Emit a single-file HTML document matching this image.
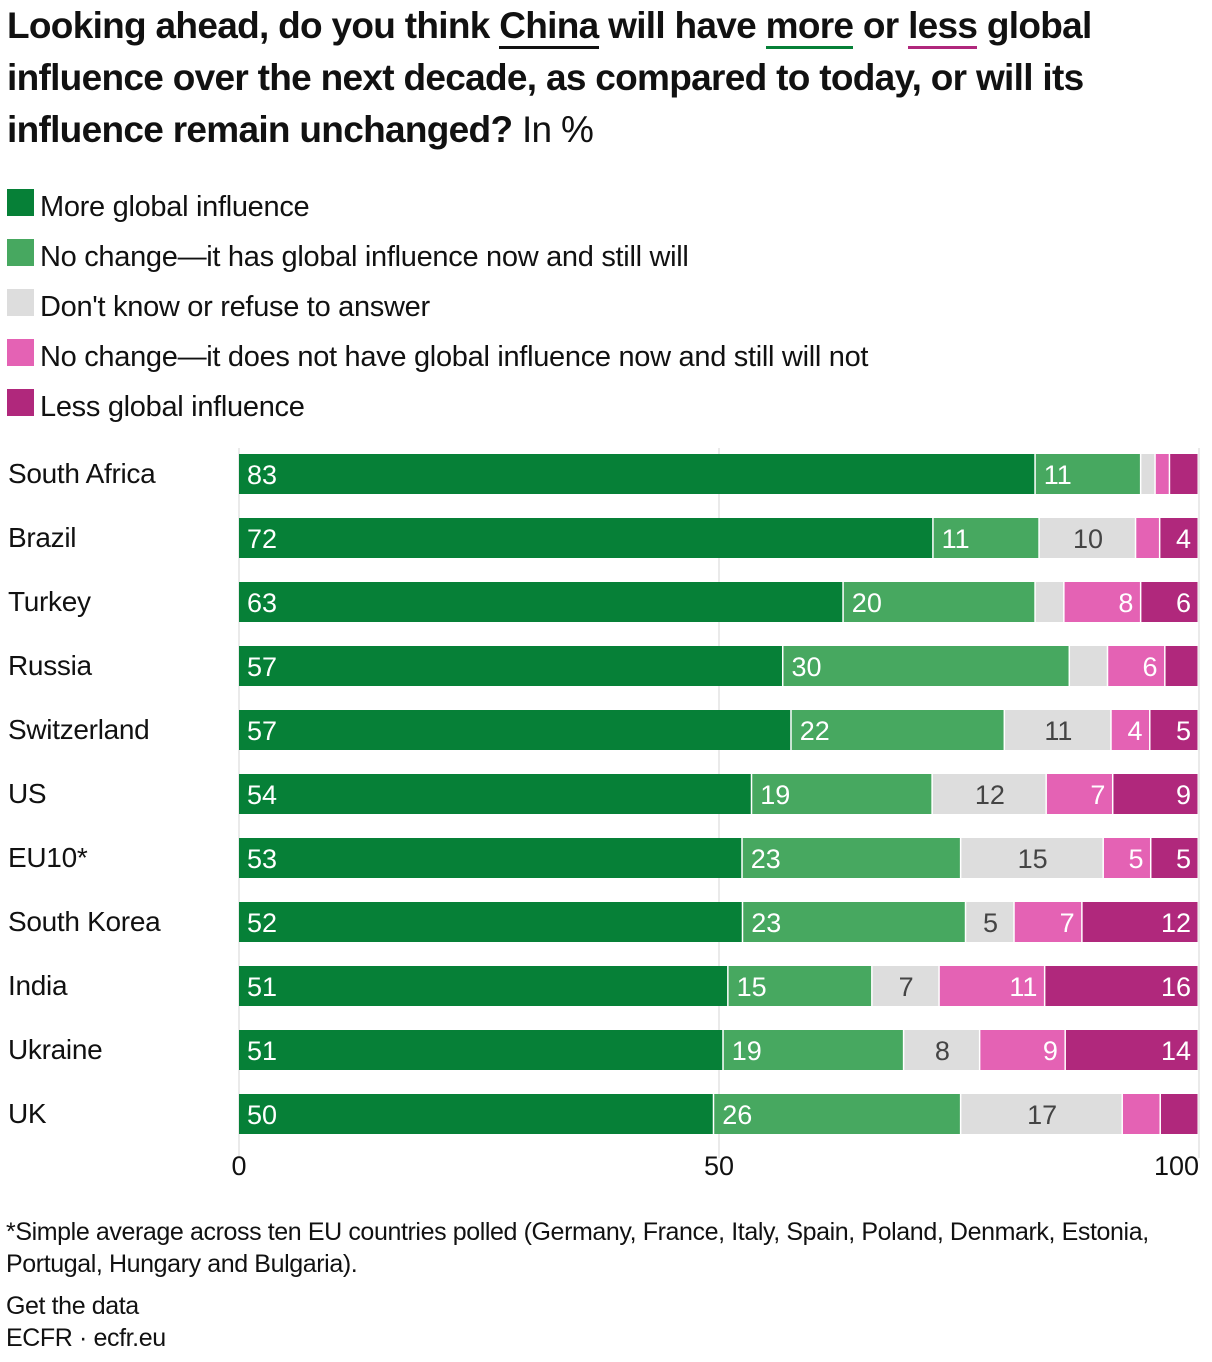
<!DOCTYPE html>
<html><head><meta charset="utf-8"><style>
body{margin:0;width:1212px;height:1362px;background:#fff;font-family:"Liberation Sans",sans-serif;color:#111;overflow:hidden;position:relative}
.title{position:absolute;left:7px;top:0px;font-size:37px;font-weight:bold;line-height:52px;white-space:nowrap;letter-spacing:-0.7px}
.title .n{font-weight:normal}
.u1{border-bottom:3px solid #111}.u2{border-bottom:3px solid #068037}.u3{border-bottom:3px solid #b0287c}
.leg{position:absolute;left:7px;font-size:29px;white-space:nowrap;letter-spacing:-0.3px}
.leg i{display:inline-block;width:27px;height:27px;vertical-align:0px;margin-right:6px}
.foot{position:absolute;left:6px;font-size:25px;white-space:nowrap;letter-spacing:-0.4px;line-height:32px}
</style></head><body>
<div class="title">Looking ahead, do you think <span class="u1">China</span> will have <span class="u2">more</span> or <span class="u3">less</span> global<br>influence over the next decade, as compared to today, or will its<br>influence remain unchanged? <span class="n">In %</span></div>
<div class="leg" style="top:189px"><i style="background:#068037"></i>More global influence</div>
<div class="leg" style="top:239px"><i style="background:#47a860"></i>No change—it has global influence now and still will</div>
<div class="leg" style="top:289px"><i style="background:#dddddd"></i>Don't know or refuse to answer</div>
<div class="leg" style="top:339px"><i style="background:#e462b4"></i>No change—it does not have global influence now and still will not</div>
<div class="leg" style="top:389px"><i style="background:#b0287c"></i>Less global influence</div>
<svg id="chart" width="1212" height="1200" style="position:absolute;left:0;top:0"></svg>
<div class="foot" style="top:1216px">*Simple average across ten EU countries polled (Germany, France, Italy, Spain, Poland, Denmark, Estonia,<br>Portugal, Hungary and Bulgaria).</div>
<div class="foot" style="top:1290px">Get the data</div>
<div class="foot" style="top:1322px">ECFR · ecfr.eu</div>
<script>
const countries=["South Africa","Brazil","Turkey","Russia","Switzerland","US","EU10*","South Korea","India","Ukraine","UK"];
const more=[83,72,63,57,57,54,53,52,51,51,50];
const noChangeHas=[11,11,20,30,22,19,23,23,15,19,26];
const dontKnow=[1.5,10,3,4,11,12,15,5,7,8,17];
const noChangeNot=[1.5,2.5,8,6,4,7,5,7,11,9,4];
const less=[3,4,6,3.5,5,9,5,12,16,14,4];
const shown=[[1,1,0,0,0],[1,1,1,0,1],[1,1,0,1,1],[1,1,0,1,0],[1,1,1,1,1],[1,1,1,1,1],[1,1,1,1,1],[1,1,1,1,1],[1,1,1,1,1],[1,1,1,1,1],[1,1,1,0,0]];
const ticks=[0,50,100];
const NS="http://www.w3.org/2000/svg",svg=document.getElementById("chart");
const x0=239,x1=1199,y0=454,step=64,bh=40;
const xs=v=>x0+(x1-x0)*v/100;
const series=[more,noChangeHas,dontKnow,noChangeNot,less];
const cols=["#068037","#47a860","#dddddd","#e462b4","#b0287c"];
const names=["more","no-change-has","dont-know","no-change-not","less"];
function mk(t,a){const e=document.createElementNS(NS,t);for(const k in a)e.setAttribute(k,a[k]);svg.appendChild(e);return e;}
ticks.forEach(t=>{
 const l=mk("line",{x1:xs(t),x2:xs(t),y1:y0-6,y2:y0+step*countries.length,stroke:"#e4e4e4","stroke-width":1.5});
 
 
 const tx=mk("text",{x:xs(t),y:1175,"text-anchor":t===100?"end":"middle","font-size":27,fill:"#111","font-family":"Liberation Sans"});
 tx.textContent=t;
 
 
});
countries.forEach((c,i)=>{
 const y=y0+i*step;
 const lb=mk("text",{x:8,y:y+29,"font-size":28,fill:"#111","font-family":"Liberation Sans","letter-spacing":"-0.3"});
 lb.textContent=c;
 
 
 let tot=0;series.forEach(s=>tot+=s[i]);
 let cum=0;
 series.forEach((s,k)=>{
  const a=xs(cum/tot*100),b=xs((cum+s[i])/tot*100);cum+=s[i];
  const r=mk("rect",{x:a,y:y,width:Math.max(0,b-a-1.5),height:bh,fill:cols[k]});
  
  
  if(shown[i][k]){
   let tx,anc;
   if(k<2){tx=a+8;anc="start";}else if(k==2){tx=(a+b)/2;anc="middle";}else{tx=b-8;anc="end";}
   const t=mk("text",{x:tx,y:y+30,"text-anchor":anc,"font-size":27,fill:k==2?"#444":"#fff","font-family":"Liberation Sans"});
   t.textContent=Math.round(s[i]);
   
   
  }
 });
});
</script>
</body></html>
